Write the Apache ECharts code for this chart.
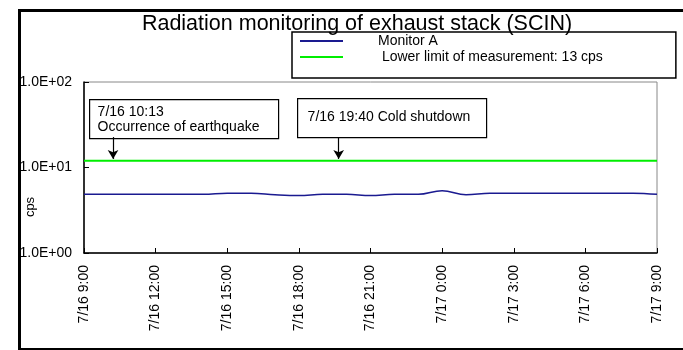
<!DOCTYPE html>
<html>
<head>
<meta charset="utf-8">
<script src="https://cdn.jsdelivr.net/npm/echarts@6/dist/echarts.min.js"></script>
<style>html,body{margin:0;padding:0;background:#fff}#c{width:683px;height:350px}</style>
</head>
<body>
<div id="c"></div>
<script>
// Hours since 7/16 9:00
var hours = [0,1,2,3,4,5,6,7,8,9,10,11,12,13,14,15,16,17,18,19,20,21,22,23,24];
var monitorA = [4.85,4.85,4.85,4.85,4.85,4.85,5.0,5.0,4.8,4.7,4.85,4.85,4.7,4.85,4.85,5.35,4.8,5.0,5.0,5.0,5.0,5.0,5.0,5.0,4.85];
var limitHours = [0, 24];
var limitValues = [12, 12];
var tickLabels = ['7/16 9:00','7/16 12:00','7/16 15:00','7/16 18:00','7/16 21:00','7/17 0:00','7/17 3:00','7/17 6:00','7/17 9:00'];
var yTickLabels = {1:'1.0E+00', 10:'1.0E+01', 100:'1.0E+02'};
var eventHours = [1.217, 10.667]; // 10:13 and 19:40
var eventTexts = ['7/16 10:13\nOccurrence of earthquake', '7/16 19:40 Cold shutdown'];
var seriesNames = ['Monitor A', ' Lower limit of measurement: 13 cps'];
var yAxisName = 'cps';

var FONT = 'Liberation Sans, Arial, sans-serif';
var chart = echarts.init(document.getElementById('c'), null, {renderer: 'canvas'});

function zip(a, b) { return a.map(function (v, i) { return [v, b[i]]; }); }

var option = {
  animation: false,
  backgroundColor: '#fff',
  textStyle: {fontFamily: FONT, color: '#000'},
  title: {
    text: 'Radiation monitoring of exhaust stack (SCIN)',
    left: 352, top: 8, textAlign: 'center',
    textStyle: {fontFamily: FONT, fontSize: 21.5, fontWeight: 'normal', color: '#000'}
  },
  legend: {
    orient: 'vertical', left: 292, top: 32,
    backgroundColor: '#fff',
    borderColor: '#000', borderWidth: 1.5,
    padding: [2, 73, 14, 8],
    itemGap: 2,
    itemWidth: 43, itemHeight: 2,
    icon: 'rect',
    textStyle: {fontFamily: FONT, fontSize: 14, color: '#000', padding: [0, 0, 0, 30]},
    data: seriesNames
  },
  grid: {left: 84, right: 26, top: 82, bottom: 97, show: true, borderColor: '#888', borderWidth: 1,
         containLabel: false, outerBoundsMode: 'none'},
  xAxis: {
    type: 'value', min: 0, max: 24, interval: 3,
    axisLine: {show: true, lineStyle: {color: '#000', width: 1.5}},
    axisTick: {show: true, inside: true, length: 5, lineStyle: {color: '#000'}},
    splitLine: {show: false},
    axisLabel: {
      rotate: 90, margin: 12, fontFamily: FONT, fontSize: 14, color: '#000',
      formatter: function (v) { return tickLabels[Math.round(v / 3)]; }
    }
  },
  yAxis: {
    type: 'log', min: 1, max: 100, logBase: 10,
    axisLine: {show: true, lineStyle: {color: '#000', width: 1.5}},
    axisTick: {show: true, inside: true, length: 5, lineStyle: {color: '#000'}},
    splitLine: {show: false},
    axisLabel: {
      margin: 12, fontFamily: FONT, fontSize: 14, color: '#000',
      formatter: function (v) { return yTickLabels[Math.round(v)] || ''; }
    }
  },
  series: [
    {
      name: seriesNames[0], type: 'line', data: zip(hours, monitorA),
      showSymbol: false, smooth: 0.4,
      lineStyle: {color: '#1a1a90', width: 1.5}, itemStyle: {color: '#1a1a90'}
    },
    {
      name: seriesNames[1], type: 'line', data: zip(limitHours, limitValues),
      showSymbol: false,
      lineStyle: {color: '#00ee00', width: 2}, itemStyle: {color: '#00ee00'},
      markLine: {
        silent: true, animation: false,
        symbol: ['none', 'arrow'], symbolSize: [8, 9],
        lineStyle: {color: '#000', width: 1.2, type: 'solid'},
        label: {show: false},
        data: eventHours.map(function (h) { return [{coord: [h, 22.7]}, {coord: [h, 12.6]}]; })
      }
    }
  ],
  graphic: [
    {type: 'rect', left: 17, top: 8, shape: {width: 700, height: 339},
     style: {fill: 'none', stroke: '#000', lineWidth: 3}, silent: true, z: 100},
    {type: 'text', x: 30, y: 207, rotation: Math.PI / 2,
     style: {text: yAxisName, font: '13px ' + FONT, fill: '#000', align: 'center', verticalAlign: 'middle'}},
    {type: 'group', left: 89, top: 99, z: 50, children: [
      {type: 'rect', shape: {x: 0, y: 0, width: 189, height: 39}, style: {fill: '#fff', stroke: '#000', lineWidth: 1.2}},
      {type: 'text', x: 8, y: 5, style: {text: eventTexts[0], font: '14px ' + FONT, fill: '#000', lineHeight: 15}}
    ]},
    {type: 'group', left: 297, top: 98, z: 50, children: [
      {type: 'rect', shape: {x: 0, y: 0, width: 189, height: 39}, style: {fill: '#fff', stroke: '#000', lineWidth: 1.2}},
      {type: 'text', x: 10, y: 12, style: {text: eventTexts[1], font: '14px ' + FONT, fill: '#000'}}
    ]}
  ]
};
chart.setOption(option);
</script>
</body>
</html>
